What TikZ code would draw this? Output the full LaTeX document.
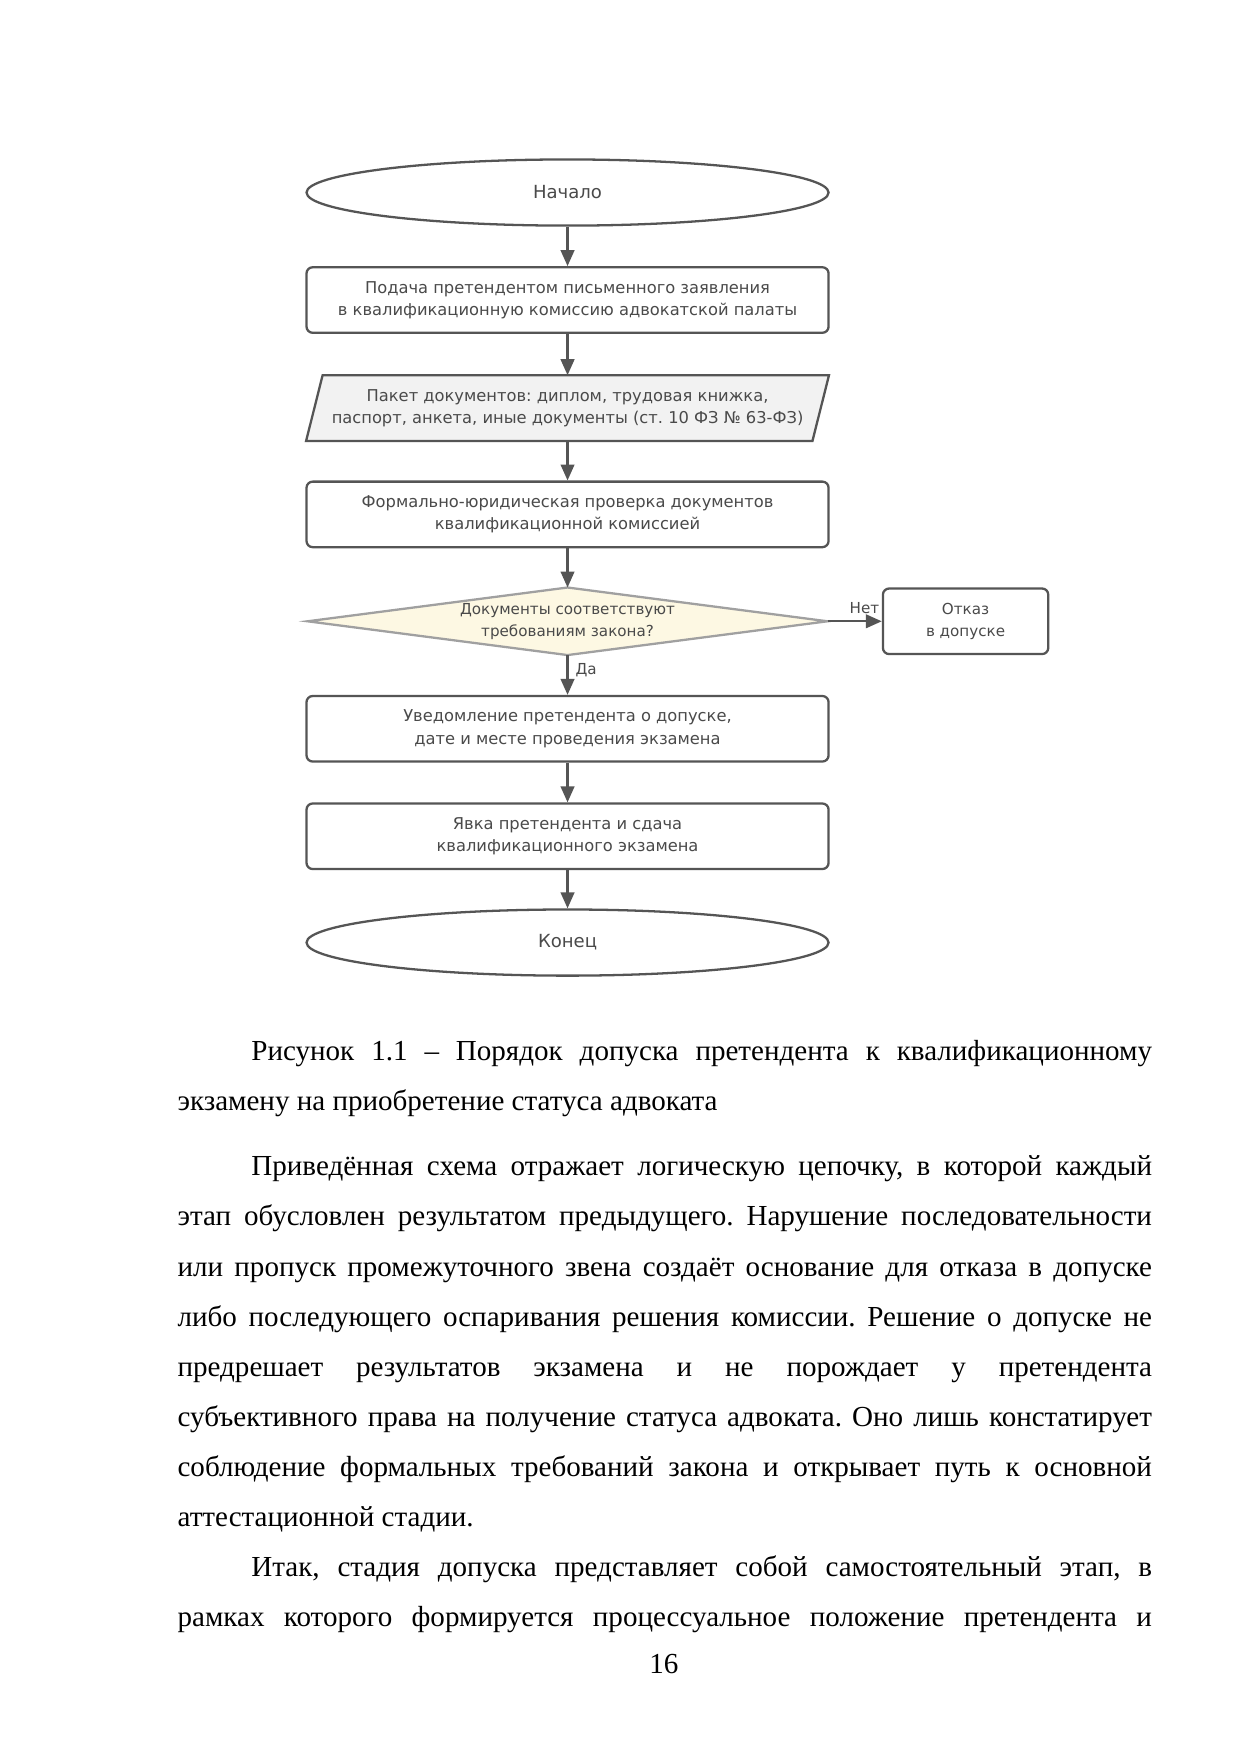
\documentclass[tikz,border=0pt]{standalone}
\usepackage{fontspec}
\setmainfont{Liberation Serif}
\newfontfamily\chartfont{DejaVu Sans}
\usetikzlibrary{arrows.meta,backgrounds,shapes.geometric}
\frenchspacing

\definecolor{linegray}{HTML}{555555}
\definecolor{txtgray}{HTML}{4A4A4A}
\definecolor{pktfill}{HTML}{F2F2F2}
\definecolor{chkfill}{HTML}{FDF8E3}
\definecolor{chkline}{HTML}{A0A0A0}

\begin{document}
\begin{tikzpicture}[
    every node/.style={font=\chartfont\fontsize{7.85}{10.7}\selectfont, text=txtgray, align=center},
    small/.style={font=\chartfont\fontsize{7.3}{10.4}\selectfont},
    proc/.style={draw=linegray, line width=1.1pt, rounded corners=3pt, minimum width=8.84cm, minimum height=1.11cm},
    term/.style={draw=linegray, line width=1.1pt, ellipse, minimum width=8.84cm, minimum height=1.12cm, font=\chartfont\fontsize{8.7}{10.7}\selectfont},
    flat/.style={minimum width=8.84cm, minimum height=1.10cm},
    arr/.style={draw=linegray, line width=1.1pt, -{Triangle[width=0.23cm,length=0.27cm]}},
    page/.style={font=\fontsize{14}{24.15}\selectfont, text=black, align=justify, text width=16.5cm, inner sep=0pt, anchor=base west}
]
    \useasboundingbox (0,0) rectangle (21,-29.7);

    % Flowchart
    \node[term] (start) at (9.61,-3.26) {Начало};
    \node[proc] (apply) at (9.61,-5.08) {Подача претендентом письменного заявления\\в квалификационную комиссию адвокатской палаты};
    \node[flat] (pkt) at (9.61,-6.91) {Пакет документов: диплом, трудовая книжка,\\паспорт, анкета, иные документы (ст. 10 ФЗ № 63-ФЗ)};
    \node[proc] (check) at (9.61,-8.71) {Формально-юридическая проверка документов\\квалификационной комиссией};
    \node[flat, small, minimum width=8.79cm, minimum height=1.13cm] (ok) at (9.61,-10.52) {Документы соответствуют\\требованиям закона?};
    \node[proc, small, minimum width=2.80cm] (deny) at (16.35,-10.52) {Отказ\\в допуске};
    \node[proc] (notice) at (9.61,-12.34) {Уведомление претендента о допуске,\\дате и месте проведения экзамена};
    \node[proc] (exam) at (9.61,-14.16) {Явка претендента и сдача\\квалификационного экзамена};
    \node[term] (stop) at (9.61,-15.96) {Конец};

    \begin{scope}[on background layer]
        \fill[white] (0,0) rectangle (21,-29.7);
        \draw[draw=linegray, line width=1.1pt, fill=pktfill] ([xshift=0.28cm]pkt.north west) -- (pkt.north east) -- ([xshift=-0.28cm]pkt.south east) -- (pkt.south west) -- cycle;
        \draw[draw=chkline, line width=1.1pt, fill=chkfill] (ok.west) -- (ok.north) -- (ok.east) -- (ok.south) -- cycle;
    \end{scope}

    % Arrows
    \draw[arr] (start) -- (apply);
    \draw[arr] (apply) -- (pkt);
    \draw[arr] (pkt) -- (check);
    \draw[arr] (check) -- (ok.north);
    \draw[arr] (ok.south) -- node[small, right, pos=0.38] {Да} (notice);
    \draw[arr] (ok.east) -- node[small, above, pos=0.68] {Нет} (deny);
    \draw[arr] (notice) -- (exam);
    \draw[arr] (exam) -- (stop);

    % Page text
    \node[page] (caption) at (3,-17.96) {\hspace*{1.25cm}Рисунок 1.1 – Порядок допуска претендента к квалификационному\linebreak экзамену на приобретение статуса адвоката};
    \node[page] (txtA) at (3,-19.91) {\hspace*{1.25cm}Приведённая схема отражает логическую цепочку, в которой каждый\linebreak этап обусловлен результатом предыдущего. Нарушение последовательности\linebreak или пропуск промежуточного звена создаёт основание для отказа в допуске\linebreak либо последующего оспаривания решения комиссии. Решение о допуске не\linebreak предрешает результатов экзамена и не порождает у претендента\linebreak субъективного права на получение статуса адвоката. Оно лишь констатирует\linebreak соблюдение формальных требований закона и открывает путь к основной\linebreak аттестационной стадии.};
    \node[page] (txtB) at (3,-26.70) {\hspace*{1.25cm}Итак, стадия допуска представляет собой самостоятельный этап, в\linebreak рамках которого формируется процессуальное положение претендента и\parfillskip=0pt\par};
    \node[font=\fontsize{14}{24.15}\selectfont, text=black, anchor=base] (pagenum) at (11.24,-28.34) {16};
\end{tikzpicture}
\end{document}
